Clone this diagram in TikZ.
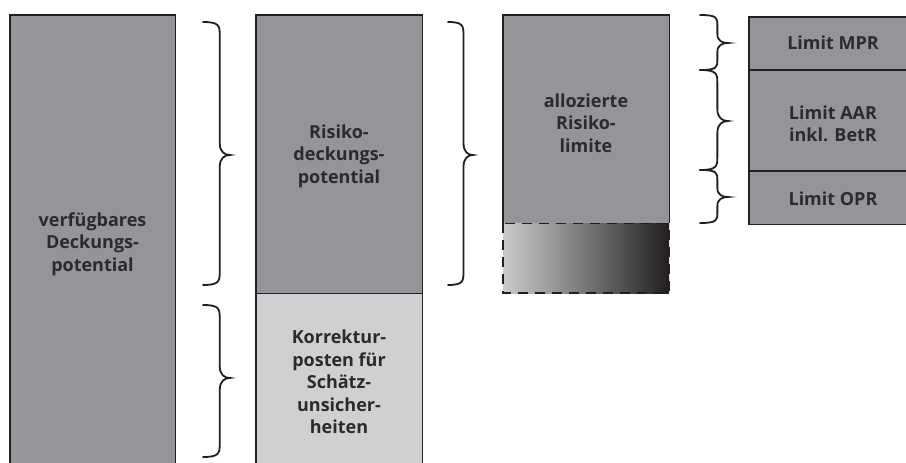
\documentclass[tikz,border=0pt]{standalone}
\usepackage{fontspec}
\setmainfont{Open Sans}
\usetikzlibrary{calc}
\definecolor{boxdark}{HTML}{939598}
\definecolor{boxlight}{HTML}{CFD0D2}
\definecolor{linec}{HTML}{231F20}
\definecolor{txtc}{HTML}{2B2B2B}
\definecolor{gradl}{HTML}{CACBCD}
\definecolor{gradm}{HTML}{8E8F92}
\tikzset{
  boxfill/.style={fill=#1, draw=none, rectangle, inner sep=0pt, anchor=north west},
  boxline/.style={draw=linec, line width=1.8pt, line join=miter},
  lbl/.style={align=center, text=txtc, font=\bfseries\fontsize{18}{22.5}\selectfont, inner sep=0pt},
  bracec/.style={draw=linec, line width=1.8pt, line cap=round},
}
% brace: x0, ytop, ybot, ymid, width
\newcommand\mybrace[5]{%
  \draw[bracec] (#1,#2) .. controls ({#1+0.62*#5},#2) and ({#1+0.62*#5},{#2+4}) .. ({#1+0.62*#5},{#2+14})
    -- ({#1+0.62*#5},{#4-12}) .. controls ({#1+0.62*#5},{#4-3}) and ({#1+0.8*#5},#4) .. ({#1+#5},#4)
    .. controls ({#1+0.8*#5},#4) and ({#1+0.62*#5},{#4+3}) .. ({#1+0.62*#5},{#4+12})
    -- ({#1+0.62*#5},{#3-14}) .. controls ({#1+0.62*#5},{#3-4}) and ({#1+0.62*#5},#3) .. (#1,#3);}
\newcommand\mybraceshort[5]{%
  \draw[bracec] (#1,#2) .. controls ({#1+0.62*#5},#2) and ({#1+0.62*#5},{#2+3}) .. ({#1+0.62*#5},{#2+10})
    -- ({#1+0.62*#5},{#4-9}) .. controls ({#1+0.62*#5},{#4-2}) and ({#1+0.8*#5},#4) .. ({#1+#5},#4)
    .. controls ({#1+0.8*#5},#4) and ({#1+0.62*#5},{#4+2}) .. ({#1+0.62*#5},{#4+9})
    -- ({#1+0.62*#5},{#3-10}) .. controls ({#1+0.62*#5},{#3-3}) and ({#1+0.62*#5},#3) .. (#1,#3);}
\begin{document}
\begin{tikzpicture}[x=1pt,y=-1pt]
\useasboundingbox (0,0) rectangle (906,463);
% column 1
\node[boxfill=boxdark, minimum width=165pt, minimum height=460pt] (b1) at (10,15) {};
\draw[boxline] (b1.south west) -- (b1.north west) -- (b1.north east) -- (b1.south east);
\node[lbl] (t1) at (92.5,244) {verfügbares\\Deckungs-\\potential};
% column 2
\node[boxfill=boxdark, minimum width=166pt, minimum height=278pt] (b2a) at (256,15) {};
\node[boxfill=boxlight, minimum width=166pt, minimum height=182pt] (b2b) at (256,293) {};
\draw[boxline] (b2b.south west) -- (b2a.north west) -- (b2a.north east) -- (b2b.south east);
\draw[boxline] (b2a.south west) -- (b2a.south east);
\node[lbl] (t2a) at (339,156) {Risiko-\\deckungs-\\potential};
\node[lbl] (t2b) at (339,382) {Korrektur-\\posten für\\Schätz-\\unsicher-\\heiten};
% column 3
\node[boxfill=boxdark, minimum width=166pt, minimum height=208pt] (b3) at (503,15) {};
\shade[left color=gradl, middle color=gradm, right color=linec, shading=axis] (503,223) rectangle (669,293);
\coordinate (d3) at (669,293);
\draw[boxline] (b3.south west) -- (b3.north west) -- (b3.north east) -- (b3.south east);
\draw[boxline, dash pattern=on 10pt off 7pt] (b3.south west) rectangle (d3);
\node[lbl] (t3) at (586,123) {allozierte\\Risiko-\\limite};
% column 4
\node[boxfill=boxdark, minimum width=180pt, minimum height=207pt] (b4) at (749,17) {};
\coordinate (m1) at (749,70);
\coordinate (m2) at (749,171);
\draw[boxline] (b4.north east) -- (b4.north west) -- (b4.south west) -- (b4.south east);
\draw[boxline] (m1) -- ++(180,0);
\draw[boxline] (m2) -- ++(180,0);
\node[lbl] (t4a) at (833,43) {Limit MPR};
\node[lbl] (t4b) at (833,124) {Limit AAR\\inkl. BetR};
\node[lbl] (t4c) at (833,199) {Limit OPR};
% braces
\mybrace{203}{22}{285}{155}{27}
\mybrace{203}{305}{457}{378}{27}
\mybrace{448}{22}{285}{155}{25}
\mybraceshort{700}{15}{70}{43}{28}
\mybrace{700}{70}{170}{121}{28}
\mybraceshort{700}{170}{223}{197}{28}
\end{tikzpicture}
\end{document}
